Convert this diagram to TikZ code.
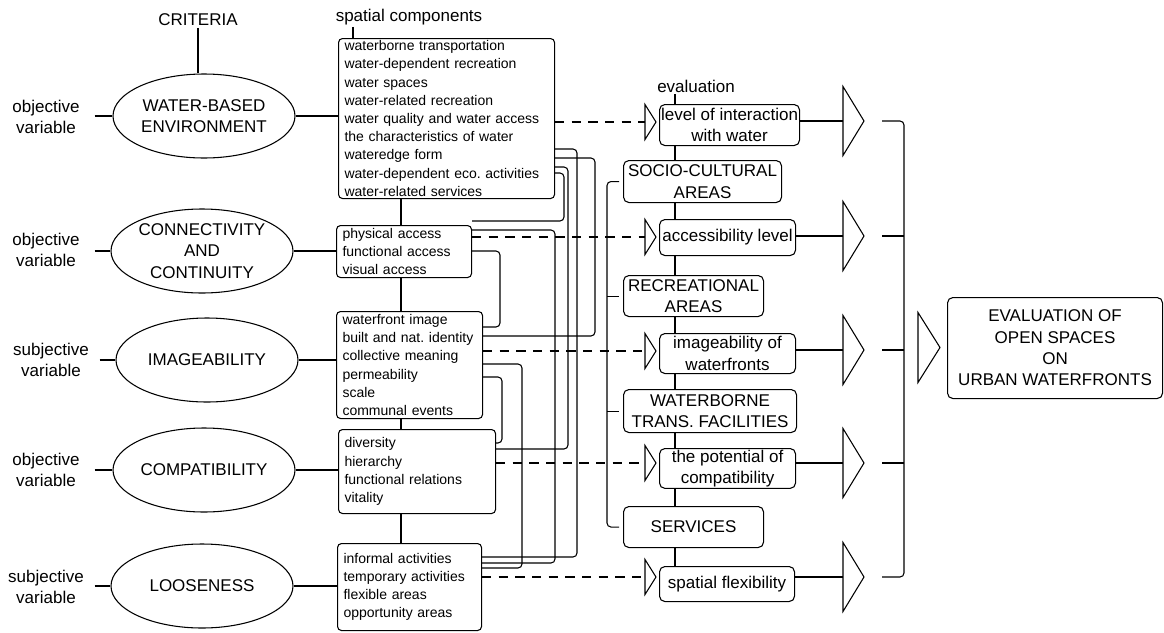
\documentclass[tikz,border=0pt]{standalone}
\usepackage{fontspec}
\setmainfont{Liberation Sans}
\usetikzlibrary{shapes.geometric}
\frenchspacing
\hyphenpenalty=10000
\exhyphenpenalty=10000
\newcommand{\critfont}{\fontsize{12.75pt}{16pt}\selectfont}
\newcommand{\listfont}{\fontsize{10.5pt}{13.65pt}\selectfont}
\tikzset{
  crit/.style={ellipse, draw, minimum width=136.5pt, minimum height=63pt, inner sep=0pt, align=center, font=\critfont},
  varlab/.style={align=center, text width=57pt, inner xsep=7.5pt, font=\critfont},
  comp/.style={draw, rounded corners=3pt, anchor=north west, align=left, inner xsep=4.5pt, inner ysep=0.5pt, font=\listfont},
  evbox/.style={draw, rounded corners=4pt, anchor=north west, align=center, inner sep=1pt, font=\critfont},
  hdr/.style={inner sep=1pt, font=\critfont},
  wire/.style={rounded corners=3pt},
  evdash/.style={dash pattern=on 7pt off 5.5pt}
}
\begin{document}
\begin{tikzpicture}[x=0.75pt, y=-0.75pt, line width=0.8pt]
\useasboundingbox (0,0) rectangle (1164,632);
% criteria
\node[hdr] (crith) at (198,20) {CRITERIA};
\node[crit] (e1) at (204,116) {WATER-BASED\\ENVIRONMENT};
\node[crit] (e2) at (202,251) {CONNECTIVITY\\AND\\CONTINUITY};
\node[crit] (e3) at (207,360) {IMAGEABILITY};
\node[crit] (e4) at (204,470) {COMPATIBILITY};
\node[crit] (e5) at (202,586) {LOOSENESS};
\node[varlab] (v1) at (46,117) {objective\\variable};
\node[varlab] (v2) at (46,250) {objective\\variable};
\node[varlab] (v3) at (51,360) {subjective\\variable};
\node[varlab] (v4) at (46,470) {objective\\variable};
\node[varlab] (v5) at (46,587) {subjective\\variable};
\draw (crith.south) -- (crith.south |- e1.north);
\foreach \n in {1,...,5} \draw (v\n.east |- e\n) -- (e\n.west);
% spatial components
\node[hdr] (sch) at (409,17) {spatial components};
\node[comp, text width=153pt, minimum height=120pt] (A) at (338,38) {waterborne transportation\\water-dependent recreation\\water spaces\\water-related recreation\\water quality and water access\\the characteristics of water\\wateredge form\\water-dependent eco. activities\\water-related services};
\node[comp, text width=92.25pt, minimum height=39pt] (B) at (336,225) {physical access\\functional access\\visual access};
\node[comp, text width=100.5pt, minimum height=80.25pt] (C) at (336,311) {waterfront image\\built and nat. identity\\collective meaning\\permeability\\scale\\communal events};
\node[comp, text width=108.75pt, minimum height=63pt] (D) at (338,429) {diversity\\hierarchy\\functional relations\\vitality};
\node[comp, text width=99pt, minimum height=65.25pt] (E) at (337,543) {informal activities\\temporary activities\\flexible areas\\opportunity areas};
\coordinate (cspine) at (401,0);
\draw (sch.south -| 353,0) -- (A.north -| 353,0);
\foreach \a/\b in {A/B,B/C,C/D,D/E} \draw (\a.south -| cspine) -- (\b.north -| cspine);
\foreach \n/\b in {1/A,2/B,3/C,4/D,5/E} \draw (e\n.east) -- (e\n.east -| \b.west);
% links between the components
\foreach \src/\ys/\xv/\tg/\yt in {A/149/577/E/557, A/158/595/C/336, A/167/568/D/449, A/173/564/B/221, B/230/555/E/563, B/251/500/C/327, C/364/522/E/568, C/377/502/D/443}
  \draw[wire] (\src.east |- 0,\ys) -| (\xv,\yt) -- (\tg.east |- 0,\yt);
% evaluation
\node[hdr] (evh) at (696,86) {evaluation};
\node[evbox, minimum width=105pt, minimum height=30.75pt] (ev1) at (659,104) {level of interaction\\with water};
\node[evbox, minimum width=118.5pt, minimum height=31.5pt] (soc) at (623,160) {SOCIO-CULTURAL\\AREAS};
\node[evbox, minimum width=102pt, minimum height=27pt] (ev2) at (659,219) {accessibility level};
\node[evbox, minimum width=105pt, minimum height=30.75pt] (rec) at (623,275) {RECREATIONAL\\AREAS};
\node[evbox, minimum width=102pt, minimum height=30pt] (ev3) at (659,333) {imageability of\\waterfronts};
\node[evbox, minimum width=129.75pt, minimum height=32.25pt] (wat) at (623,389) {WATERBORNE\\TRANS. FACILITIES};
\node[evbox, minimum width=102pt, minimum height=29.25pt] (ev4) at (659,448) {the potential of\\compatibility};
\node[evbox, minimum width=105pt, minimum height=30.75pt] (serv) at (623,506) {SERVICES};
\node[evbox, minimum width=101.25pt, minimum height=26.25pt] (ev5) at (659,566) {spatial flexibility};
\coordinate (spine) at (675,0);
\draw (evh.south -| spine) -- (ev1.north -| spine);
\foreach \a/\b in {ev1/soc,soc/ev2,ev2/rec,rec/ev3,ev3/wat,wat/ev4,ev4/serv,serv/ev5} \draw (\a.south -| spine) -- (\b.north -| spine);
\coordinate (catx) at (607,0);
\draw[wire] (soc.west) ++(-4,0) -- (soc.west -| catx) -- (serv.west -| catx) -- ++(12,0);
\foreach \b in {rec,wat} \draw (\b.west -| catx) -- ++(12,0);
% tips
\foreach \n/\y/\src in {1/122/A,2/237/B,3/351/C,4/463/D,5/577/E}{
  \coordinate (tip\n) at (645,\y);
  \draw (tip\n) ++(0,-17.5) -- ++(11,17.5) -- ++(-11,17.5) -- cycle;
  \draw[evdash] (tip\n -| \src.east) -- (tip\n);
}
\foreach \n/\y in {1/121,2/236,3/350,4/463,5/577}{
  \coordinate (big\n) at (843,\y);
  \draw (big\n) ++(0,-34.5) -- ++(21,34.5) -- ++(-21,34.5) -- cycle;
  \draw (big\n -| ev\n.east) -- (big\n);
}
\coordinate (brk) at (904,0);
\draw[wire] (big1) ++(39,0) -- (big1 -| brk) -- (big5 -| brk) -- ++(-22,0);
\foreach \n in {2,3,4} \draw (big\n) ++(39,0) -- (big\n -| brk);
% result
\node[evbox, minimum width=161.25pt, minimum height=75.75pt] (fin) at (947,297) {EVALUATION OF\\OPEN SPACES\\ON\\URBAN WATERFRONTS};
\coordinate (fintip) at (918,347.5);
\draw (fintip) ++(0,-35) -- ++(22,35) -- ++(-22,35) -- cycle;
\end{tikzpicture}
\end{document}
